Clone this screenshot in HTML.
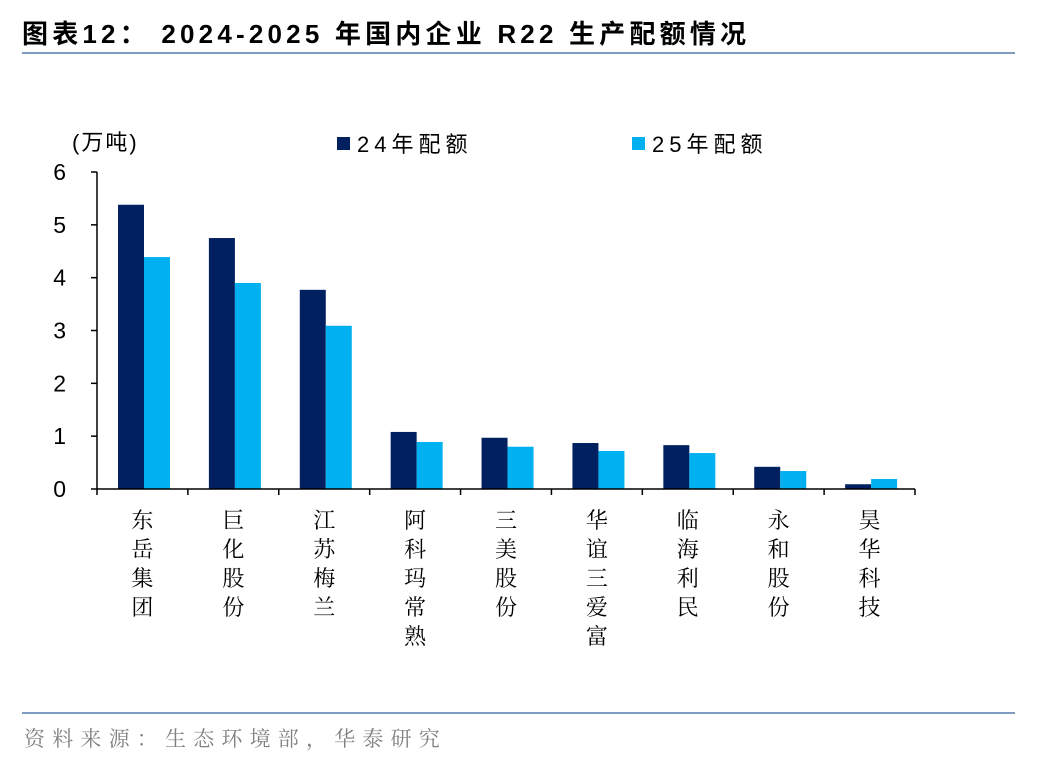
<!DOCTYPE html>
<html><head><meta charset="utf-8">
<style>
body{margin:0;background:#fff;width:1048px;height:760px;overflow:hidden;font-family:"Liberation Sans","Noto Sans CJK SC",sans-serif;}
svg text{font-family:"Liberation Sans","Noto Sans CJK SC",sans-serif;}
svg text.serif{font-family:"Liberation Serif","Noto Serif CJK SC",serif;}
</style></head>
<body>
<svg width="1048" height="760" viewBox="0 0 1048 760">
<text x="22" y="43" font-size="26" font-weight="bold" letter-spacing="4.2" fill="#000">图表12：  2024-2025 年国内企业 R22 生产配额情况</text>
<line x1="22" y1="53" x2="1015" y2="53" stroke="#7f9cc0" stroke-width="2"/>
<text x="72" y="150" font-size="22" fill="#000" letter-spacing="2">(万吨)</text>
<rect x="337" y="137" width="13" height="13" fill="#002060"/>
<text x="357" y="152" font-size="22" fill="#000" letter-spacing="5">24年配额</text>
<rect x="632" y="137" width="13" height="13" fill="#00b0f0"/>
<text x="652" y="152" font-size="22" fill="#000" letter-spacing="5">25年配额</text>
<g id="plot"></g>
<line x1="22" y1="713" x2="1015" y2="713" stroke="#7f9cc0" stroke-width="2"/>
<text class="serif" x="24" y="746" font-size="21" letter-spacing="7.2" fill="#808080">资料来源：生态环境部，华泰研究</text>
</svg>
<script>
const categories=["东岳集团","巨化股份","江苏梅兰","阿科玛常熟","三美股份","华谊三爱富","临海利民","永和股份","昊华科技"];
const series24=[5.38,4.75,3.77,1.08,0.97,0.87,0.83,0.42,0.09];
const series25=[4.39,3.90,3.09,0.89,0.80,0.72,0.68,0.34,0.19];
const yTicks=[0,1,2,3,4,5,6];
const NS="http://www.w3.org/2000/svg";
const g=document.getElementById('plot');
const x0=97,x1=915,yBase=489,yTop=172,yMax=6;
const gw=(x1-x0)/categories.length;
const y=v=>yBase-(v/yMax)*(yBase-yTop);
function el(t,a){const e=document.createElementNS(NS,t);for(const k in a)e.setAttribute(k,a[k]);g.appendChild(e);return e;}
yTicks.forEach(t=>{
  const l=el('line',{x1:91,x2:x0,y1:y(t),y2:y(t),stroke:'#000','stroke-width':1.5});
  
  
  const tx=el('text',{x:66,y:y(t)+8,'font-size':23,'text-anchor':'end',fill:'#000'});
  tx.textContent=t;
  
  
});
categories.forEach((c,i)=>{
  const gx=x0+i*gw;
  const b1=el('rect',{x:gx+21,y:y(series24[i]),width:26,height:yBase-y(series24[i]),fill:'#002060'});
  
  
  const b2=el('rect',{x:gx+47,y:y(series25[i]),width:26,height:yBase-y(series25[i]),fill:'#00b0f0'});
  
  
  [...c].forEach((ch,j)=>{
    const t=el('text',{x:gx+gw/2,y:528+j*29,'font-size':22,'text-anchor':'middle',fill:'#000','class':'serif'});
    t.textContent=ch;
    
    
  });
});
for(let i=0;i<=categories.length;i++){
  const l=el('line',{x1:x0+i*gw,x2:x0+i*gw,y1:yBase,y2:yBase+6,stroke:'#000','stroke-width':1.5});
  
  
}
const ya=el('line',{x1:x0,x2:x0,y1:yTop,y2:yBase,stroke:'#000','stroke-width':1.5});


const xa=el('line',{x1:x0,x2:x1,y1:yBase,y2:yBase,stroke:'#000','stroke-width':1.5});


</script>
</body></html>
